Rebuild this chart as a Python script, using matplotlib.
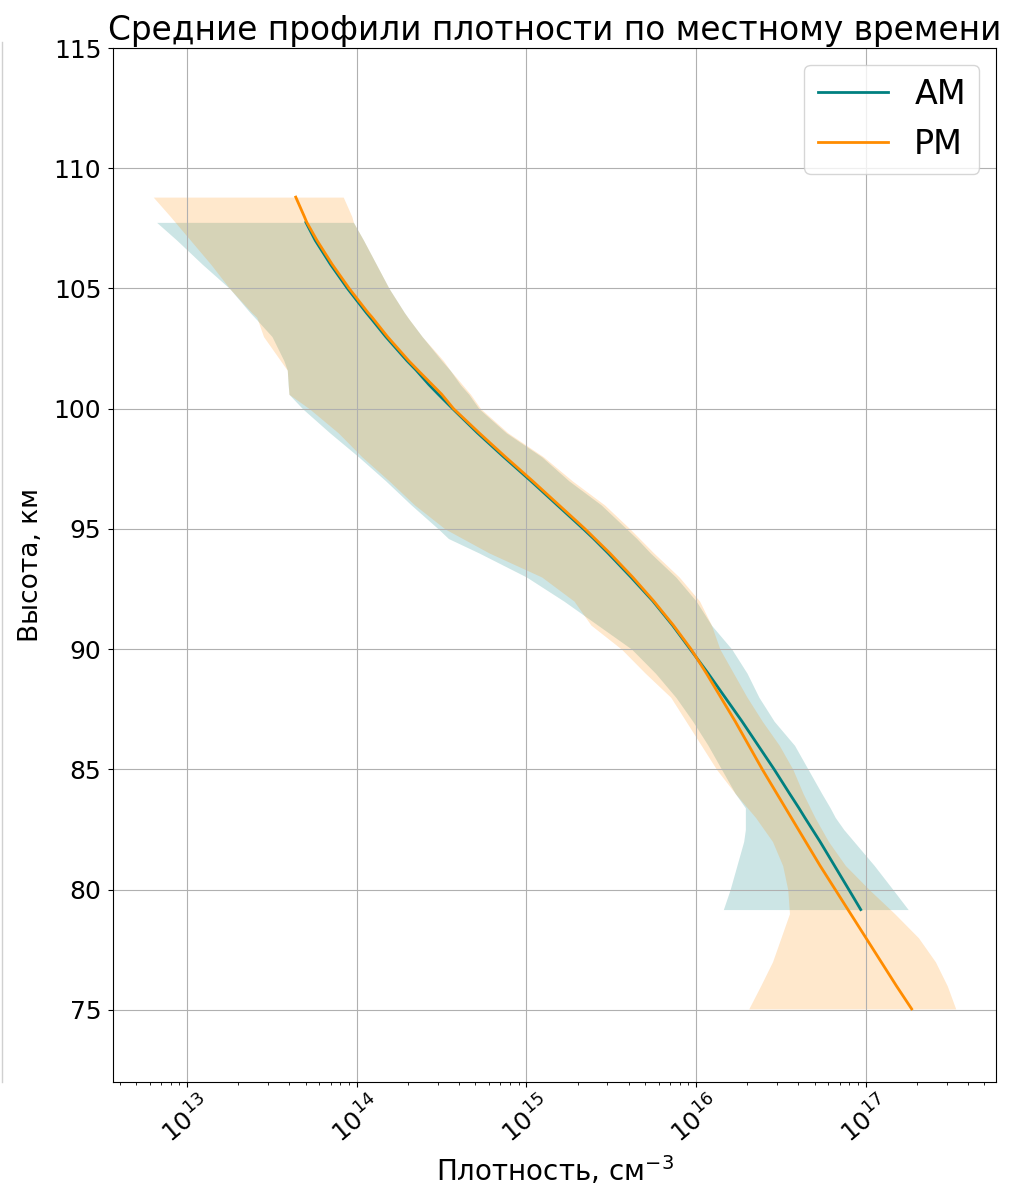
import numpy as np
import matplotlib
matplotlib.use('Agg')
import matplotlib.pyplot as plt
from matplotlib.lines import Line2D

# высоты, км, и lg плотности (см^-3): нижняя граница, среднее, верхняя граница
am_h = [107.75, 107, 106, 105, 104, 103.7, 103, 102, 101.6, 101, 100.6, 100, 99,
        98, 97, 96, 95, 94.6, 94, 93, 92, 91, 90, 89, 88, 87, 86, 85, 84, 83.4,
        83, 82.5, 82, 81, 80, 79.17]
am_lo = [12.82, 12.94, 13.09, 13.25, 13.37, 13.41, 13.50, 13.57, 13.59, 13.595,
         13.60, 13.68, 13.84, 14.01, 14.17, 14.32, 14.48, 14.54, 14.72, 15.00,
         15.22, 15.42, 15.62, 15.76, 15.88, 15.98, 16.07, 16.15, 16.23, 16.29,
         16.29, 16.29, 16.28, 16.24, 16.20, 16.16]
am_mean = [13.70, 13.755, 13.845, 13.945, 14.055, 14.09, 14.17, 14.295, 14.35,
           14.425, 14.48, 14.565, 14.71, 14.865, 15.025, 15.18, 15.335, 15.395,
           15.48, 15.615, 15.745, 15.86, 15.965, 16.07, 16.17, 16.27, 16.365,
           16.46, 16.55, 16.605, 16.64, 16.685, 16.73, 16.815, 16.90, 16.97]
am_hi = [13.98, 14.04, 14.115, 14.19, 14.28, 14.31, 14.385, 14.50, 14.55, 14.61,
         14.66, 14.72, 14.88, 15.09, 15.25, 15.44, 15.59, 15.65, 15.73, 15.88,
         16.00, 16.09, 16.21, 16.30, 16.37, 16.46, 16.58, 16.66, 16.74, 16.79,
         16.82, 16.87, 16.93, 17.05, 17.16, 17.25]

pm_h = [108.8, 108, 107.75, 107, 106, 105, 104, 103.8, 103, 102, 101.6, 100.6,
        100, 99, 98, 97, 96, 95, 94, 93, 92, 91, 90, 89, 88, 87, 86, 85, 84, 83,
        82, 81, 80, 79, 78, 77, 76, 75.04]
pm_lo = [12.80, 12.90, 12.93, 13.02, 13.14, 13.25, 13.38, 13.41, 13.45, 13.55,
         13.59, 13.60, 13.72, 13.89, 14.03, 14.19, 14.34, 14.52, 14.78, 15.09,
         15.28, 15.38, 15.56, 15.70, 15.85, 15.94, 16.03, 16.12, 16.23, 16.35,
         16.45, 16.51, 16.54, 16.55, 16.50, 16.45, 16.38, 16.31]
pm_mean = [13.64, 13.69, 13.705, 13.765, 13.855, 13.955, 14.065, 14.09, 14.18,
           14.305, 14.36, 14.50, 14.57, 14.72, 14.875, 15.035, 15.19, 15.345,
           15.49, 15.625, 15.75, 15.865, 15.97, 16.06, 16.145, 16.23, 16.31,
           16.39, 16.475, 16.56, 16.645, 16.73, 16.82, 16.91, 17.00, 17.09,
           17.18, 17.27]
pm_hi = [13.92, 13.97, 13.98, 14.04, 14.115, 14.19, 14.28, 14.30, 14.385, 14.51,
         14.55, 14.67, 14.73, 14.89, 15.10, 15.27, 15.46, 15.61, 15.75, 15.90,
         16.02, 16.09, 16.14, 16.22, 16.30, 16.39, 16.49, 16.57, 16.63, 16.70,
         16.78, 16.88, 17.02, 17.17, 17.31, 17.41, 17.48, 17.53]

fig = plt.figure(figsize=(10.1, 11.89), dpi=100)
ax = fig.add_axes([0.112, 0.09, 0.874, 0.8696])

profiles = [('AM', am_h, am_lo, am_mean, am_hi, 'teal'),
            ('PM', pm_h, pm_lo, pm_mean, pm_hi, 'darkorange')]
for name, h, lo, mean, hi, color in profiles:
    ax.fill_betweenx(np.array(h), 10 ** np.array(lo), 10 ** np.array(hi),
                     color=color, alpha=0.2, linewidth=0)
for name, h, lo, mean, hi, color in profiles:
    ax.plot(10 ** np.array(mean), h, color=color, lw=2, label=name)

ax.set_xscale('log')
ax.set_ylim(72, 115)
ax.grid(True)
ax.tick_params(axis='both', labelsize=18)
ax.tick_params(axis='y', pad=5)
ax.tick_params(axis='x', labelrotation=40)
ax.set_xlabel('Плотность, см$^{-3}$', fontsize=20)
ax.set_ylabel('Высота, км', fontsize=19, labelpad=7)
ax.set_title('Средние профили плотности по местному времени', fontsize=23.6)
ax.legend(fontsize=24, loc='upper right', handlelength=2.1)

# тонкая рамка слева
fig.add_artist(Line2D([0.002, 0.002], [0.09, 0.965], color='#d0d0d0', lw=1))

fig.savefig('out.png', dpi=100)
